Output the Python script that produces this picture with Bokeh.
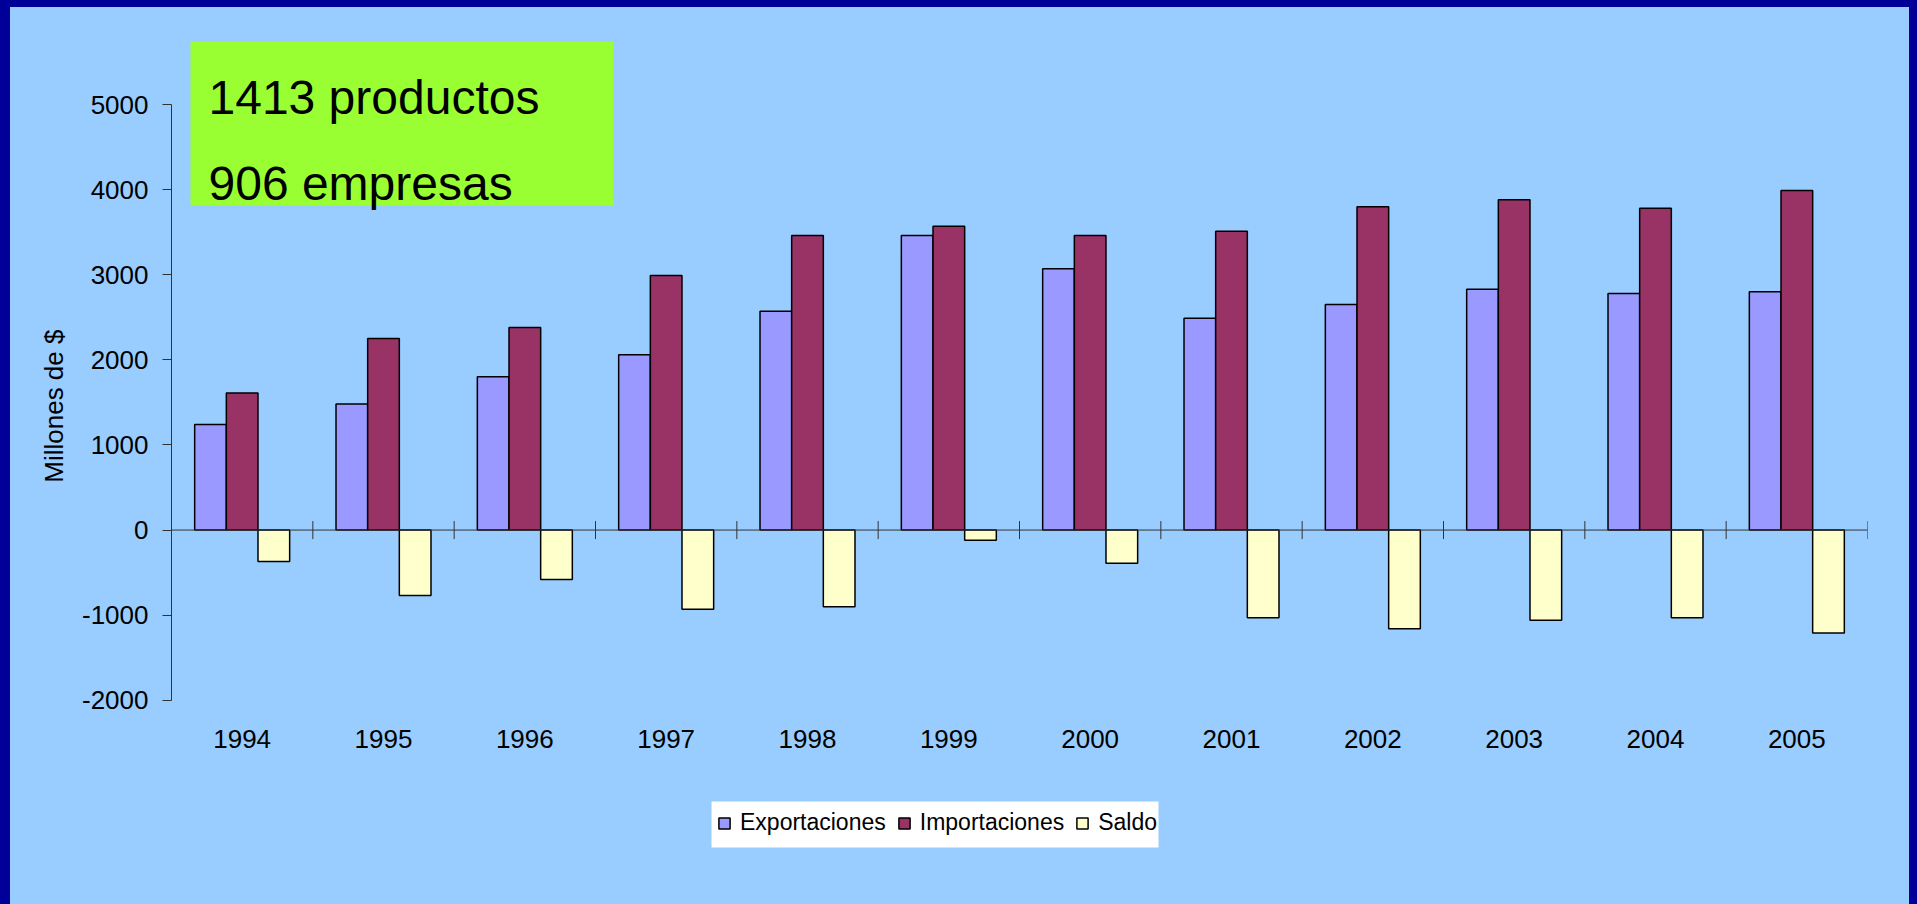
from bokeh.plotting import figure
from bokeh.models import (ColumnDataSource, FactorRange, Range1d, FixedTicker, Span,
                          Label, Legend, LegendItem, BoxAnnotation)
from bokeh.layouts import column
from bokeh.transform import dodge
from bokeh.embed import file_html
from bokeh.resources import INLINE
import numpy as np

years = ["1994", "1995", "1996", "1997", "1998", "1999",
         "2000", "2001", "2002", "2003", "2004", "2005"]
exportaciones = [1240, 1480, 1800, 2060, 2570, 3460, 3070, 2490, 2650, 2830, 2780, 2800]
importaciones = [1610, 2250, 2380, 2990, 3460, 3570, 3460, 3510, 3800, 3880, 3780, 3990]
saldo = [-370, -770, -580, -930, -900, -120, -390, -1030, -1160, -1060, -1030, -1210]
y_ticks = [-2000, -1000, 0, 1000, 2000, 3000, 4000, 5000]
y_tick_labels = {t: str(t) for t in y_ticks}
info_lines = ["1413 productos", "906 empresas"]
y_title = "Millones de $"

FONT = "Liberation Sans"
BG = "#99CCFF"
FRAME_BLUE = "#000099"

src = ColumnDataSource(dict(year=years, exp=exportaciones, imp=importaciones, sal=saldo))

p = figure(width=1899, height=897, output_backend="svg", toolbar_location=None,
           x_range=FactorRange(*years, range_padding=0), y_range=Range1d(-4000, 5893),
           min_border_left=161, min_border_right=42, min_border_top=21, min_border_bottom=34)
p.margin = (7, 8, 0, 10)
p.styles = {"background-color": BG}
p.background_fill_color = BG
p.border_fill_color = BG
p.outline_line_color = None
p.outline_line_alpha = 0
p.grid.visible = False

# green info box
p.add_layout(BoxAnnotation(left=19, right=442, top=829, bottom=665,
                           left_units="screen", right_units="screen",
                           top_units="screen", bottom_units="screen",
                           fill_color="#99FF33", fill_alpha=1.0, line_color=None,
                           level="underlay"))
for txt, yb in zip(info_lines, [773, 687]):
    p.add_layout(Label(x=37, y=yb, x_units="screen", y_units="screen", text=txt,
                       text_font=FONT, text_font_size="48px", text_color="black",
                       text_baseline="alphabetic", text_align="left"))

# white legend panel
p.add_layout(BoxAnnotation(left=540, right=987, top=69, bottom=23,
                           left_units="screen", right_units="screen",
                           top_units="screen", bottom_units="screen",
                           fill_color="white", fill_alpha=1.0, line_color=None,
                           level="underlay"))

bw = 0.224
r_exp = p.vbar(x=dodge("year", -bw, range=p.x_range), top="exp", bottom=0, width=bw, source=src,
               fill_color="#9999FF", line_color="black", line_width=1.5)
r_imp = p.vbar(x=dodge("year", 0, range=p.x_range), top="imp", bottom=0, width=bw, source=src,
               fill_color="#993366", line_color="black", line_width=1.5)
r_sal = p.vbar(x=dodge("year", bw, range=p.x_range), top="sal", bottom=0, width=bw, source=src,
               fill_color="#FFFFCC", line_color="black", line_width=1.5)

# zero line and category boundary ticks
p.add_layout(Span(location=0, dimension="width", line_color="#333333", line_width=1))
p.scatter(x=dodge("year", 0.5, range=p.x_range), y=0, source=src, marker="dash",
          angle=np.pi / 2, size=18, line_color="#333333", line_width=1)

# y axis
ya = p.yaxis[0]
ya.bounds = (-2000, 5000)
ya.ticker = FixedTicker(ticks=y_ticks)
ya.major_label_overrides = y_tick_labels
ya.minor_tick_line_color = None
ya.major_tick_in = 0
ya.major_tick_out = 9
ya.axis_line_color = "#333333"
ya.major_tick_line_color = "#333333"
ya.major_label_text_font = FONT
ya.major_label_text_font_size = "26px"
ya.major_label_text_color = "black"
ya.major_label_standoff = 14
# leading no-break spaces keep the title centred on the -2000..5000 span
ya.axis_label = "\u00a0" * 12 + y_title
ya.axis_label_text_font = FONT
ya.axis_label_text_font_size = "26px"
ya.axis_label_text_font_style = "normal"
ya.axis_label_text_color = "black"
ya.axis_label_standoff = 10

# x axis, drawn at the -2000 level
xa = p.xaxis[0]
xa.fixed_location = -2000
xa.axis_line_color = None
xa.major_tick_line_color = None
xa.major_tick_in = 0
xa.major_tick_out = 0
xa.major_label_text_font = FONT
xa.major_label_text_font_size = "26px"
xa.major_label_text_color = "black"
xa.major_label_standoff = 30

legend = Legend(items=[LegendItem(label="Exportaciones", renderers=[r_exp]),
                       LegendItem(label="Importaciones", renderers=[r_imp]),
                       LegendItem(label="Saldo", renderers=[r_sal])],
                orientation="horizontal", location=(546, 34),
                label_text_font=FONT, label_text_font_size="23px", label_text_color="black",
                glyph_width=14, glyph_height=14, label_standoff=9, spacing=11,
                padding=9, margin=0, border_line_color=None,
                background_fill_color="white", background_fill_alpha=0.0)
p.add_layout(legend, "center")

page = column(p, styles={"background-color": FRAME_BLUE})
open("out.html", "w").write(file_html(page, INLINE))
